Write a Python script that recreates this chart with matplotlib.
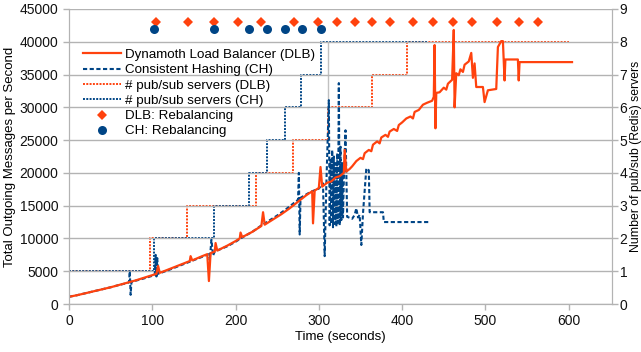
import matplotlib
matplotlib.use("Agg")
import matplotlib.pyplot as plt
from matplotlib.lines import Line2D

plt.rcParams['font.family'] = ['Liberation Sans', 'DejaVu Sans']

ORANGE = '#ff420e'
BLUE = '#004586'
GRID = '#b3b3b3'

# throughput, Dynamoth Load Balancer
dlb_t = [0, 10, 20, 30, 40, 50, 60, 70, 80, 90, 100, 105, 107, 109, 120, 130, 140, 145, 146, 148,
         160, 166, 168, 170, 175, 176, 178, 190, 200, 205, 206, 208, 220, 231, 233, 235, 245, 255,
         265, 275, 285, 292, 293, 295, 300, 302, 304, 310, 315, 320, 325, 328, 330, 331, 333, 337,
         340, 345, 350, 353, 355, 360, 363, 365, 370, 373, 375, 380, 383, 385, 390, 394, 396, 400,
         405, 410, 413, 415, 420, 425, 430, 436, 438, 439, 440, 441, 445, 450, 453, 455, 460, 462,
         463, 465, 468, 470, 473, 475, 480, 483, 485, 487, 489, 497, 499, 503, 513, 515, 519, 521,
         523, 524, 539, 540, 541, 604]
dlb_v = [1100, 1350, 1650, 1950, 2250, 2550, 2900, 3250, 3600, 4000, 4400, 4600, 5800, 4750, 5300,
         5800, 6300, 6550, 7300, 6650, 7300, 7600, 3500, 7750, 8000, 9300, 8150, 8900, 9600, 10000,
         10900, 10200, 11000, 11900, 14000, 12100, 12900, 13700, 14600, 15600, 16600, 17200, 12300,
         17300, 17700, 20900, 17900, 18500, 18700, 19300, 19500, 19800, 20000, 23500, 20200, 20600,
         21000, 21800, 22300, 22100, 23000, 23500, 23300, 24300, 24800, 24500, 25400, 25800, 25500,
         26300, 26700, 26400, 27300, 27700, 28300, 28600, 28300, 29300, 29600, 30400, 30700, 31000,
         31600, 39500, 26800, 32200, 32300, 33000, 32700, 33600, 34200, 41800, 30000, 35200, 34900,
         35800, 35400, 36500, 37000, 38300, 34500, 36700, 33100, 33100, 30800, 32600, 32800, 39200,
         40100, 40100, 34100, 37300, 37300, 34100, 36900, 36900]

# throughput, Consistent Hashing
ch_t = [0, 10, 20, 30, 40, 50, 60, 70, 72, 73, 74, 75, 80, 90, 100, 103, 104, 105, 106, 107, 120,
        130, 140, 150, 160, 168, 169, 171, 173, 175, 190, 200, 210, 220, 230, 240, 250, 260, 270,
        275, 276, 277, 278, 290, 300, 305, 307, 309, 312, 313, 314, 315, 316, 317, 318, 319, 320,
        321, 322, 323, 324, 325, 326, 327, 328, 329, 330, 332, 334, 340, 343, 345, 347, 349, 351,
        353, 357, 360, 361, 377, 378, 432]
ch_v = [1100, 1350, 1650, 1950, 2250, 2550, 2900, 3200, 3300, 5000, 1400, 3400, 3550, 3900, 4300,
        4500, 7500, 4200, 7000, 4600, 5200, 5700, 6200, 6700, 7200, 7600, 6700, 9800, 7400, 8000,
        8800, 9500, 10300, 11000, 11900, 12700, 13500, 14400, 15400, 15900, 20000, 10600, 16200,
        17100, 17600, 18400, 7300, 18200, 31100, 12000, 22000, 12200, 23500, 11700, 22500, 12200,
        21500, 11800, 23000, 12400, 33700, 12000, 24000, 12800, 21500, 13200, 19000, 26500, 13300,
        13000, 13600, 14600, 13200, 13600, 9000, 13800, 20700, 20400, 14000, 14000, 12500, 12500]

# number of pub/sub servers (step changes)
dlb_srv_t = [0, 97, 142, 225, 269, 311, 364, 406, 600]
dlb_srv_n = [1, 2, 3, 4, 5, 6, 7, 8, 8]
ch_srv_t = [0, 102, 174, 216, 238, 259, 279, 302, 431]
ch_srv_n = [1, 2, 3, 4, 5, 6, 7, 8, 8]

# rebalancing events
dlb_reb = [104, 143, 174, 203, 230, 270, 299, 322, 343, 364, 385, 413, 437, 461, 484, 514, 540, 563]
ch_reb = [102, 174, 216, 238, 259, 280, 302]
dlb_reb_y = 8.6
ch_reb_y = 8.4

DOT = (0, (1, 0.7))

fig = plt.figure(figsize=(6.41, 3.52), dpi=100)
ax = fig.add_axes([69 / 641, 1 - 304 / 352, (612 - 69) / 641, (304 - 9) / 352])
ax2 = ax.twinx()

# servers + markers on right axis
ax2.plot(dlb_srv_t, dlb_srv_n, drawstyle='steps-post', color=ORANGE, lw=1.4, linestyle=DOT)
ax2.plot(ch_srv_t, ch_srv_n, drawstyle='steps-post', color=BLUE, lw=1.4, linestyle=DOT)
ax2.plot([311, 311], [5, 8], color='#c0c0c0', lw=1)
ax2.plot(dlb_reb, [dlb_reb_y] * len(dlb_reb), 'D', color=ORANGE, ms=5, mew=0)
ax2.plot(ch_reb, [ch_reb_y] * len(ch_reb), 'o', color=BLUE, ms=6.5, mew=0)

# throughput on left axis, drawn on top
ax.set_zorder(ax2.get_zorder() + 1)
ax.patch.set_visible(False)
ax.plot(ch_t, ch_v, color=BLUE, lw=1.5, linestyle=(0, (2, 1.2)))
ax.plot(dlb_t, dlb_v, color=ORANGE, lw=1.6)

ax.set_xlim(0, 652)
ax.set_ylim(0, 45000)
ax2.set_ylim(0, 9)
ax.set_xticks(range(0, 601, 100))
ax.set_yticks(range(0, 45001, 5000))
ax2.set_yticks(range(0, 10))
ax.yaxis.grid(True, color=GRID, lw=1)
ax.set_axisbelow(True)

for a in (ax, ax2):
    for s in a.spines.values():
        s.set_color(GRID)
    a.spines['top'].set_visible(False)
    a.tick_params(colors=GRID, labelcolor='#111111', labelsize=10, length=4, width=1)
ax2.tick_params(pad=1.5)

ax.set_xlabel('Time (seconds)', fontsize=9.5, labelpad=2)
ax.set_ylabel('Total Outgoing Messages per Second', fontsize=9.5, labelpad=3)
ax2.set_ylabel('Number of pub/sub (Redis) servers', fontsize=8.8)
ax2.yaxis.set_label_coords(1.034, 0.5)

handles = [
    Line2D([], [], color=ORANGE, lw=1.6),
    Line2D([], [], color=BLUE, lw=1.5, linestyle=(0, (2, 1.2))),
    Line2D([], [], color=ORANGE, lw=1.4, linestyle=DOT),
    Line2D([], [], color=BLUE, lw=1.4, linestyle=DOT),
    Line2D([], [], color=ORANGE, marker='D', ms=5, mew=0, linestyle='none'),
    Line2D([], [], color=BLUE, marker='o', ms=6.5, mew=0, linestyle='none'),
]
labels = ['Dynamoth Load Balancer (DLB)', 'Consistent Hashing (CH)',
          '# pub/sub servers (DLB)', '# pub/sub servers (CH)',
          'DLB: Rebalancing', 'CH: Rebalancing']
leg = ax.legend(handles, labels, loc='upper left', bbox_to_anchor=(0.025, 0.865),
                frameon=False, fontsize=9.6, handlelength=2.9, handletextpad=0.3,
                labelspacing=0.22, borderpad=0, borderaxespad=0)

fig.savefig('out.png', dpi=100)
